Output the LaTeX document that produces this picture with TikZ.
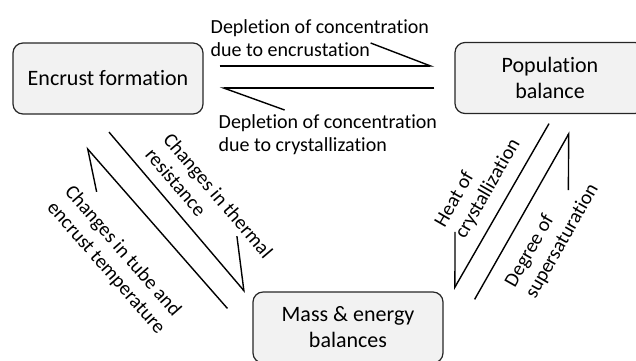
\documentclass[tikz,border=0pt]{standalone}
\usepackage{fontspec}
\setmainfont{Carlito}[Ligatures=NoCommon]
\usetikzlibrary{arrows.meta}

\begin{document}
\begin{tikzpicture}[x=1pt, y=-1pt,
  box/.style = {draw=black!85, fill=black!5, rounded corners=10pt, line width=1.2pt, minimum width=190pt, minimum height=71pt, align=center, font=\fontsize{22}{26}\selectfont},
  lbl/.style = {align=left, inner sep=0pt, font=\fontsize{20}{23.5}\selectfont},
  conn/.style = {line width=1.4pt}]
\useasboundingbox (0,0) rectangle (636,360);
\node[box] (enc) at (108,78.5) {Encrust formation};
\node[box] (pop) at (550,78) {Population\\balance};
\node[box] (mass) at (348,327.5) {Mass \& energy\\balances};

\node[lbl, anchor=north west] (dep1) at (210.5,19) {Depletion of concentration\\due to encrustation};
\node[lbl, anchor=north west] (dep2) at (218.5,114) {Depletion of concentration\\due to crystallization};

\draw[conn, -{Straight Barb[left, length=60pt, width=46pt]}] ([shift={(16,-12.5)}]enc.east) -- ([shift={(-20,-12)}]pop.west);
\draw[conn, -{Straight Barb[left, length=61pt, width=44pt]}] ([shift={(-20,10)}]pop.west) -- ([shift={(16,9.5)}]enc.east);

\draw[conn, -{Straight Barb[left, length=46pt, width=60pt]}] ([shift={(1,17.5)}]enc.south) -- ([shift={(-7,1)}]mass.north west)
  node[lbl, sloped, pos=0.19, anchor=south west, yshift=11pt] (thr) {Changes in thermal\\resistance};
\draw[conn, -{Straight Barb[left, length=38pt, width=43pt]}] ([shift={(-25,17)}]mass.north west) -- ([shift={(-22,32.5)}]enc.south)
  node[lbl, sloped, pos=0.91, anchor=north west, yshift=-32pt] (tub) {Changes in tube and\\encrust temperature};

\draw[conn, -{Straight Barb[right, length=48pt, width=55pt]}] ([shift={(-1,9.5)}]pop.south) -- ([shift={(10,-2)}]mass.north east)
  node[lbl, sloped, pos=0.75, anchor=south west, yshift=11pt] (hea) {Heat of\\crystallization};
\draw[conn, -{Straight Barb[right, length=49pt, width=55pt]}] ([shift={(31,8)}]mass.north east) -- ([shift={(20,17.5)}]pop.south)
  node[lbl, sloped, pos=0.15, anchor=north west, yshift=-15pt] (deg) {Degree of\\supersaturation};
\end{tikzpicture}
\end{document}
